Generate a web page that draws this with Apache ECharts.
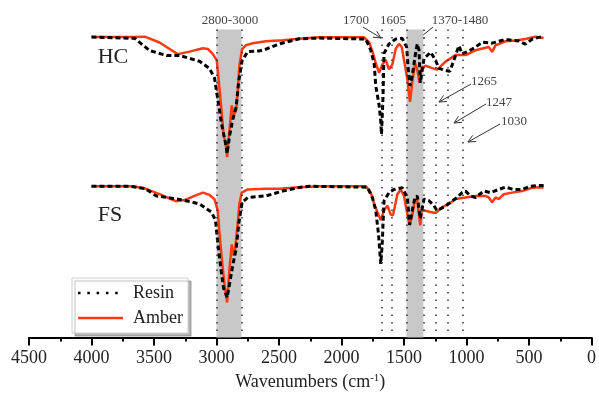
<!DOCTYPE html>
<html>
<head>
<meta charset="utf-8">
<script src="https://cdn.jsdelivr.net/npm/echarts@6/dist/echarts.min.js"></script>
<style>html,body{margin:0;padding:0;background:#fff}#c{width:599px;height:396px}</style>
</head>
<body>
<div id="c"></div>
<script>
// Wavenumber (cm-1) vs. offset transmittance (arbitrary units)
const xTicks = [4500, 4000, 3500, 3000, 2500, 2000, 1500, 1000, 500, 0];
const bands = [[3000, 2800, '2800-3000'], [1480, 1345, '1370-1480']];
const markerLines = [1680, 1595, 1250, 1150, 1030];
const seriesNames = ['Resin', 'Amber'];

const hcAmber = [[4000,310.3],[3654,310.3],[3574,310.7],[3455,304.7],[3375,298],[3309,292.7],[3216,295.3],[3109,298.7],[3069,298],[3030,293],[2998,286.3],[2982,265],[2962,238],[2944,210],[2928,201.3],[2915,186.3],[2896,215],[2878,239.7],[2862,230],[2843,235],[2830,255],[2817,281],[2795,298],[2763,302],[2710,304],[2604,306],[2471,307],[2338,308.5],[2178,310],[1819,310],[1779,305],[1747,293.3],[1726,283.3],[1699,273.3],[1673,282],[1646,286.7],[1620,277],[1593,282],[1566,298.3],[1540,303.3],[1518,300],[1500,286.7],[1473,266.7],[1452,243.3],[1434,263.3],[1412,283.3],[1394,276.7],[1375,263.3],[1359,278.3],[1327,280.7],[1274,278.3],[1234,276.7],[1168,285],[1088,291.7],[1008,291.7],[928,296.7],[822,300],[795,295],[768,301.7],[689,306],[609,306.7],[529,308.3],[449,310.7],[383,309.3]];

const hcResin = [[4000,310.3],[3654,309],[3535,296.3],[3399,291.3],[3295,291.3],[3136,285.3],[3056,278],[3016,268],[2992,248],[2960,221],[2928,201],[2915,190],[2896,208],[2870,225],[2843,238],[2822,265],[2795,286],[2750,295.3],[2657,296],[2601,298],[2497,303.3],[2338,308.5],[2178,309.3],[1806,308.3],[1766,296.7],[1739,283.3],[1726,260],[1699,240],[1686,223.3],[1680,210],[1668,248],[1660,293.3],[1620,303.3],[1566,308.3],[1514,309],[1479,300],[1466,277],[1452,260],[1434,270],[1412,290],[1394,303.3],[1380,297],[1370,263],[1340,288],[1287,294.7],[1247,286.3],[1221,278],[1173,276],[1133,275],[1101,286.3],[1061,301.3],[1035,293],[981,296],[928,300],[875,305],[795,304],[742,306],[689,308],[636,307],[582,306.3],[529,303],[476,308],[423,310],[383,310.7]];

const fsAmber = [[4000,156.3],[3670,156.3],[3574,154],[3441,147.3],[3322,140.7],[3255,142],[3176,146.3],[3109,149.7],[3056,147.3],[3016,143],[2990,131.3],[2976,108],[2955,78],[2936,54.7],[2915,36.3],[2896,71.3],[2878,96.3],[2864,84.7],[2851,91.3],[2830,118],[2817,138],[2798,149.7],[2750,153],[2604,153.7],[2497,153.7],[2338,155.3],[2178,156.3],[1805,156.3],[1766,149.7],[1739,138],[1713,129.7],[1686,121.3],[1660,131.3],[1633,136.3],[1606,127],[1588,126.3],[1553,148],[1526,153],[1500,146.3],[1479,131.3],[1455,116.3],[1434,126.3],[1412,143],[1394,141.3],[1370,116],[1359,131.3],[1340,131.3],[1287,129.7],[1247,128.7],[1194,134.7],[1141,138],[1088,143],[1008,144.7],[928,146.3],[848,146.3],[822,144.7],[795,139.7],[768,144.7],[742,143],[702,148],[636,149.7],[556,151.3],[476,154.7],[409,155.3],[383,155]];

const fsResin = [[4000,156.3],[3694,156.3],[3574,154],[3481,146.3],[3348,143.7],[3268,142],[3136,138],[3042,129.7],[3008,121.3],[2990,98],[2962,68],[2944,51.3],[2915,41.3],[2896,55],[2870,74.7],[2843,91.3],[2822,118],[2795,139.7],[2750,144.7],[2604,146.3],[2471,151.3],[2338,155],[2258,156.3],[1793,155.3],[1753,144.7],[1726,131.3],[1705,108],[1686,76],[1675,95],[1660,141],[1620,149.7],[1580,153],[1514,154.7],[1473,144.7],[1455,116.3],[1434,131.3],[1412,144.7],[1394,146.3],[1370,123],[1340,143],[1300,141.3],[1261,136.3],[1237,131.3],[1181,134.7],[1128,139.7],[1075,144.7],[1035,149.7],[1008,151.3],[968,146.3],[928,144.7],[862,151.3],[808,149.7],[742,153],[689,155.3],[622,153],[556,153],[489,156.3],[409,157],[383,157]];

const FONT = "'Liberation Serif','Times New Roman',serif";
const RED = '#ff3a12';

const chart = echarts.init(document.getElementById('c'), null, {renderer: 'canvas'});

const vLines = [];
bands.forEach(b => { vLines.push(b[0]); vLines.push(b[1]); });
markerLines.forEach(v => vLines.push(v));

function arrow(x1, y1, x2, y2) {
  const ang = Math.atan2(y2 - y1, x2 - x1);
  const L = 8, a = 0.45;
  const p1 = [x2 - L * Math.cos(ang - a), y2 - L * Math.sin(ang - a)];
  const p2 = [x2 - L * Math.cos(ang + a), y2 - L * Math.sin(ang + a)];
  const st = {stroke: '#333', lineWidth: 1, fill: null};
  return [
    {type: 'line', shape: {x1, y1, x2, y2}, style: st, silent: true},
    {type: 'polyline', shape: {points: [p1, [x2, y2], p2]}, style: st, silent: true}
  ];
}
function label(text, x, y, size, color) {
  return {type: 'text', x, y, silent: true,
    style: {text, font: size + 'px ' + FONT, fill: color || '#333', align: 'center', verticalAlign: 'middle', textAlign: 'center', textVerticalAlign: 'middle'}};
}

const graphics = [].concat(
  [label('2800-3000', 230, 21, 13, '#444'),
   label('1700', 356, 21, 13, '#444'),
   label('1605', 393, 21, 13, '#444'),
   label('1370-1480', 460, 21, 13, '#444'),
   label('1265', 484, 82, 13, '#444'),
   label('1247', 499, 103, 13, '#444'),
   label('1030', 514, 122, 13, '#444'),
   label('HC', 113, 57, 22, '#222'),
   label('FS', 110, 215, 22, '#222')],
  arrow(363, 27, 381, 38),
  arrow(433, 27, 417, 40),
  arrow(471, 84, 439, 102),
  arrow(486, 104, 454, 123),
  arrow(500, 124, 468, 142),
  [{type: 'rect', shape: {x: 72, y: 278, width: 116, height: 55}, silent: true,
    style: {fill: '#fff', stroke: '#cfcfcf', lineWidth: 1, shadowColor: 'rgba(0,0,0,0.28)', shadowOffsetX: 3, shadowOffsetY: 3, shadowBlur: 1}},
   {type: 'line', shape: {x1: 78, y1: 293, x2: 124, y2: 293}, silent: true,
    style: {stroke: '#000', lineWidth: 2.5, lineDash: [2.5, 6.8]}},
   {type: 'text', x: 133, y: 293, silent: true, style: {text: seriesNames[0], font: '18px ' + FONT, fill: '#222', verticalAlign: 'middle', textVerticalAlign: 'middle'}},
   {type: 'line', shape: {x1: 78, y1: 318, x2: 123, y2: 318}, silent: true,
    style: {stroke: RED, lineWidth: 2.5}},
   {type: 'text', x: 133, y: 318, silent: true, style: {text: seriesNames[1], font: '18px ' + FONT, fill: '#222', verticalAlign: 'middle', textVerticalAlign: 'middle'}}]
);

const option = {
  animation: false,
  backgroundColor: '#fff',
  grid: {left: 29, right: 6, top: 18, bottom: 48, containLabel: false},
  xAxis: {
    type: 'value', inverse: true, min: 0, max: 4500, interval: 500,
    axisLine: {show: true, onZero: false, lineStyle: {color: '#000', width: 2}},
    axisTick: {show: true, length: 8, inside: false, lineStyle: {color: '#000', width: 2}},
    minorTick: {show: true, splitNumber: 2, length: 4, lineStyle: {color: '#000', width: 2}},
    splitLine: {show: false},
    axisLabel: {margin: 12, fontFamily: FONT, fontSize: 18, color: '#222',
      formatter: v => xTicks.indexOf(v) >= 0 ? String(v) : ''},
    name: 'Wavenumbers (cm{sup|-1})',
    nameLocation: 'middle', nameGap: 25,
    nameTextStyle: {fontFamily: FONT, fontSize: 18, color: '#222',
      rich: {sup: {fontFamily: FONT, fontSize: 11, color: '#222', verticalAlign: 'top', padding: [0, 0, 8, 0]}}}
  },
  yAxis: {type: 'value', min: 0, max: 330, show: false},
  graphic: graphics,
  series: [
    {type: 'line', name: 'bands', data: [], z: 1, silent: true,
      markArea: {silent: true, itemStyle: {color: '#c8c8c8'},
        data: bands.map(b => [{coord: [b[0], 318]}, {coord: [b[1], 0]}])},
      markLine: {silent: true, symbol: ['none', 'none'], label: {show: false},
        lineStyle: {type: [1.5, 6], color: '#333', width: 1.5},
        data: vLines.map(v => [{coord: [v, 318]}, {coord: [v, 0]}])}},
    {type: 'line', name: seriesNames[1] + ' HC', data: hcAmber, showSymbol: false, z: 3,
      lineStyle: {color: RED, width: 2.5}},
    {type: 'line', name: seriesNames[1] + ' FS', data: fsAmber, showSymbol: false, z: 3,
      lineStyle: {color: RED, width: 2.5}},
    {type: 'line', name: seriesNames[0] + ' HC', data: hcResin, showSymbol: false, z: 4,
      lineStyle: {color: '#000', width: 3, type: [5, 3]}},
    {type: 'line', name: seriesNames[0] + ' FS', data: fsResin, showSymbol: false, z: 4,
      lineStyle: {color: '#000', width: 3, type: [5, 3]}}
  ]
};
chart.setOption(option);
</script>
</body>
</html>
